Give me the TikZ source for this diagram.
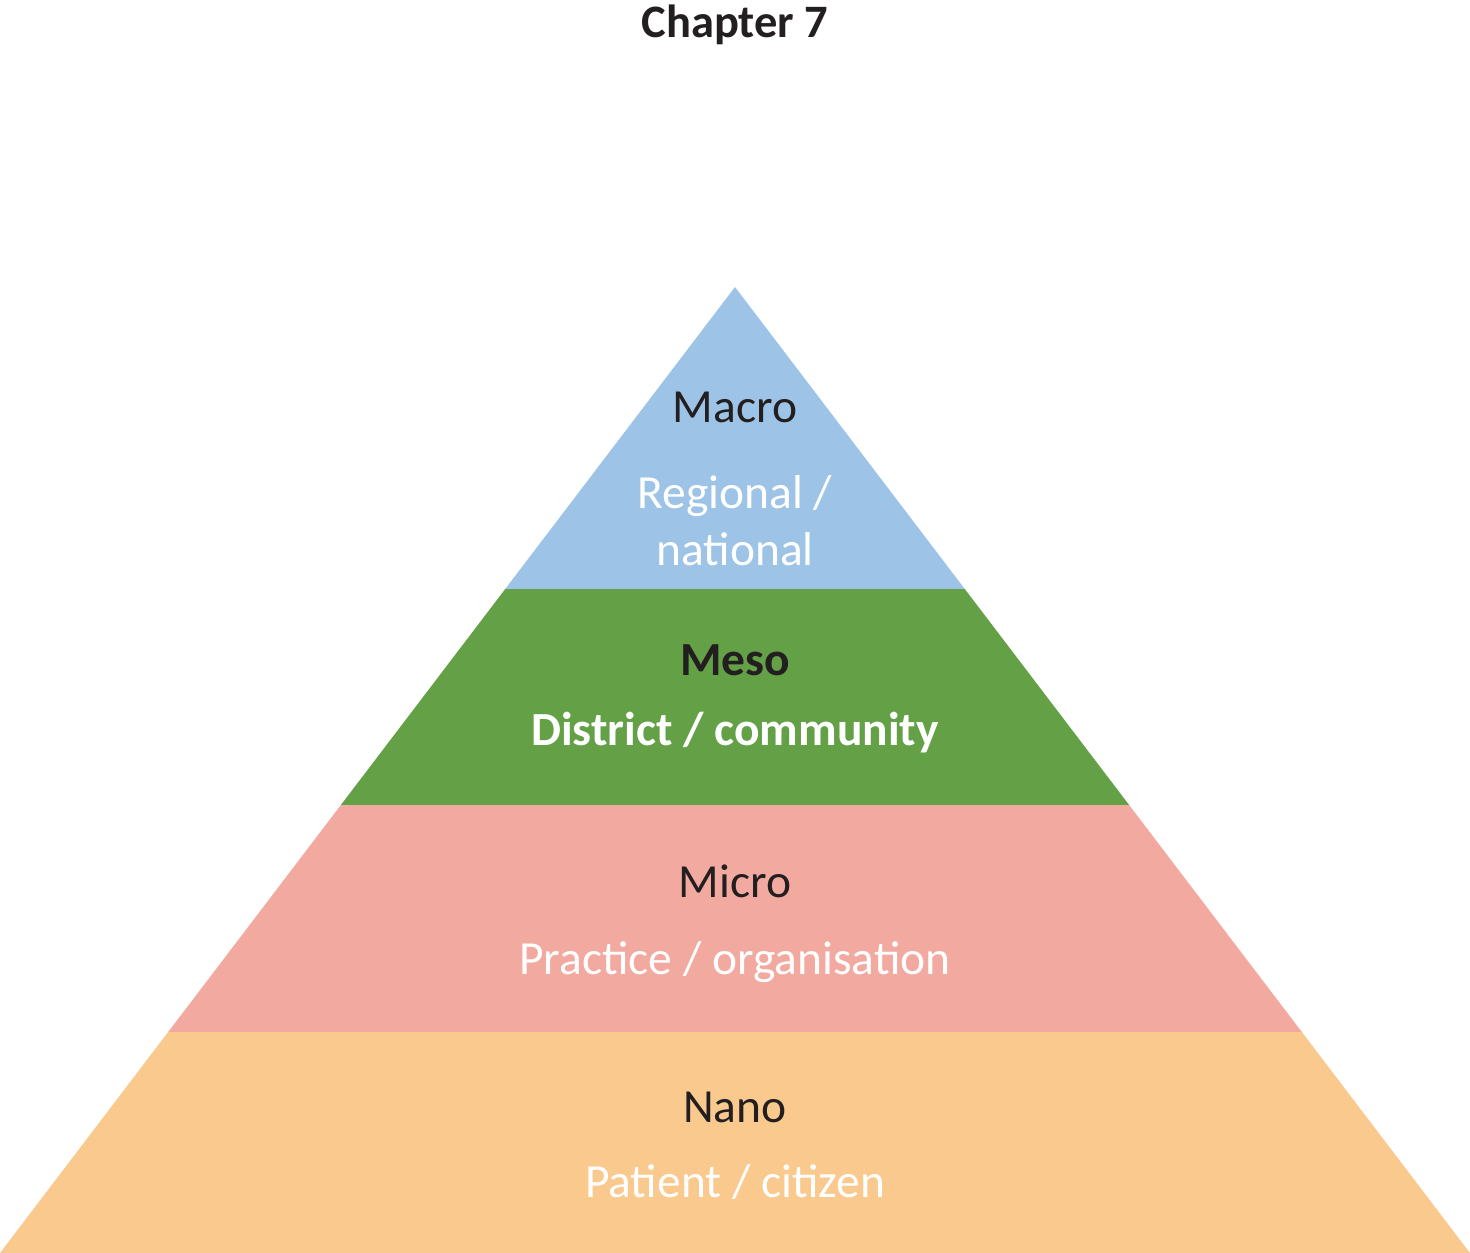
\documentclass[tikz,border=0pt]{standalone}
\usepackage{fontspec}
\setmainfont{Carlito}
\usetikzlibrary{positioning}
\definecolor{macroblue}{HTML}{9DC3E6}
\definecolor{mesogreen}{HTML}{63A046}
\definecolor{micropink}{HTML}{F2A9A0}
\definecolor{nanoorange}{HTML}{F9C98D}
\definecolor{textdark}{HTML}{231F20}
\begin{document}
\begin{tikzpicture}[x=1pt, y=-1pt,
    level/.style={font=\fontsize{47.5}{57}\selectfont, text=textdark, anchor=base, inner sep=0pt, align=center},
    sub/.style={level, text=white}]
    \def \peak {287}
    \def \mid {735}
    \def \slope {0.76087} % half width per unit of height
    \useasboundingbox (0,0) rectangle (1470,1253);
    \foreach \ya/\yb/\col in {287/589/macroblue, 589/805/mesogreen, 805/1032/micropink, 1032/1253/nanoorange}
    {
      \fill[\col] ({\mid-\slope*(\ya-\peak)},\ya) -- ({\mid+\slope*(\ya-\peak)},\ya)
        -- ({\mid+\slope*(\yb-\peak)},\yb) -- ({\mid-\slope*(\yb-\peak)},\yb) -- cycle;
    }
    \node[level, font=\fontsize{46.5}{56}\selectfont\bfseries] (title) at (\mid,37) {Chapter 7};
    \node[level] (macro) at (\mid,422) {Macro};
    \node[sub] (regional) at (\mid,565) {Regional /\\national}; % base is the last line
    \node[level, font=\fontsize{47.5}{57}\selectfont\bfseries] (meso) at (\mid,675) {Meso};
    \node[sub, font=\fontsize{47.5}{57}\selectfont\bfseries] (district) at (\mid,745) {District / community};
    \node[level] (micro) at (\mid,897) {Micro};
    \node[sub] (practice) at (\mid,974) {Practice / organisation};
    \node[level] (nano) at (\mid,1122) {Nano};
    \node[sub] (patient) at (\mid,1197) {Patient / citizen};
\end{tikzpicture}
\end{document}
